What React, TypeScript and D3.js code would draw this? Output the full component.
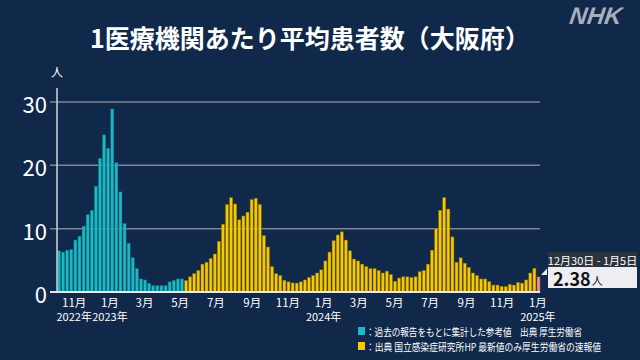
import React from "react";
import * as d3 from "d3";

const W = 640;
const H = 360;

const title = "1医療機関あたり平均患者数（大阪府）";
const firstWeek = "2022-10-03";

// 過去の報告をもとに集計した参考値 (Oct 3 2022 – May 1 2023 weeks)
const referenceValues = [
  6.5, 6.3, 6.6, 6.7, 8.2, 8.8, 10.4, 12.2, 12.9, 16.7, 21.1, 24.8, 22.7, 28.9,
  20.4, 15.8, 10.8, 7.7, 5.4, 3.7, 2.06, 1.9, 1.38, 1.0, 1.0, 1.0, 1.0, 1.6, 1.8,
  2.06, 2.06,
];

// 国立感染症研究所 (May 8 2023 – Dec 23 2024 weeks)
const surveillanceValues = [
  1.8, 2.4, 2.9, 3.4, 4.4, 4.7, 5.3, 6.0, 8.0, 10.7, 13.8, 14.9, 13.9, 11.4, 12.0,
  12.6, 14.6, 14.8, 13.8, 8.9, 7.1, 4.0, 2.9, 2.6, 1.85, 1.6, 1.43, 1.4, 1.6, 1.9,
  2.3, 2.6, 3.0, 3.5, 4.9, 6.3, 8.1, 9.0, 9.5, 8.2, 6.5, 5.2, 4.9, 4.4, 4.0, 3.7,
  3.7, 3.4, 3.0, 3.3, 2.75, 1.7, 2.2, 2.4, 2.4, 2.3, 2.4, 3.2, 3.4, 4.4, 6.6, 10.0,
  12.9, 14.9, 13.1, 8.7, 4.7, 5.4, 4.55, 3.9, 3.0, 2.6, 2.06, 2.06, 1.64, 1.1, 1.1,
  0.9, 0.85, 1.2, 1.1, 1.5, 1.4, 1.9, 3.0, 3.75,
];

// 速報値 (Dec 30 2024 – Jan 5 2025)
const latestValue = 2.38;
const latestLabel = "12月30日 - 1月5日";
const latestUnit = "人";

const yTicks = [0, 10, 20, 30];
const monthTickDates = [
  "2022-11-01", "2023-01-01", "2023-03-01", "2023-05-01", "2023-07-01", "2023-09-01",
  "2023-11-01", "2024-01-01", "2024-03-01", "2024-05-01", "2024-07-01", "2024-09-01",
  "2024-11-01", "2025-01-01",
];
const monthTickLabels = [
  "11月", "1月", "3月", "5月", "7月", "9月", "11月", "1月", "3月", "5月", "7月", "9月",
  "11月", "1月",
];
const yearLabelDates = ["2022-11-01", "2023-01-01", "2024-01-01", "2025-01-01"];
const yearLabels = ["2022年", "2023年", "2024年", "2025年"];

const legendTexts = [
  "：過去の報告をもとに集計した参考値　出典 厚生労働省",
  "：出典 国立感染症研究所HP 最新値のみ厚生労働省の速報値",
];

const FONT = "'Noto Sans CJK JP', 'Noto Sans', sans-serif";
const BG = "#10284a";
const TEAL = "#1cb8c6";
const TEAL_EDGE = "#0d7c88";
const YELLOW = "#f7c900";
const YELLOW_EDGE = "#8a7000";
const PINK = "#f0909a";
const PINK_EDGE = "#a8525c";

function parse(s: string) {
  const [y, m, d] = s.split("-").map(Number);
  return new Date(y, m - 1, d);
}

export default function App() {
  const start = parse(firstWeek);
  const all = [
    ...referenceValues.map((v) => ({ v, kind: "ref" })),
    ...surveillanceValues.map((v) => ({ v, kind: "sur" })),
    { v: latestValue, kind: "latest" },
  ].map((d, i) => ({ ...d, date: d3.timeDay.offset(start, i * 7 + 3) }));

  const n = all.length;
  const x = d3
    .scaleTime()
    .domain([all[0].date, all[n - 1].date])
    .range([59, 538.5]);
  const y = d3.scaleLinear().domain([0, 30]).range([292, 102]);
  const pitch = (538.5 - 59) / (n - 1);
  const bw = pitch - 1.1;

  const fillOf = (k: string) => (k === "ref" ? TEAL : k === "sur" ? YELLOW : PINK);
  const edgeOf = (k: string) =>
    k === "ref" ? TEAL_EDGE : k === "sur" ? YELLOW_EDGE : PINK_EDGE;

  return (
    <svg
      width={W}
      height={H}
      style={{ position: "absolute", left: 0, top: 0, display: "block" }}
      fontFamily={FONT}
    >
      <rect x={0} y={0} width={W} height={H} fill={BG} />
      <text
        x={310}
        y={37}
        fill="#ffffff"
        fontSize={25}
        fontWeight={700}
        textAnchor="middle"
        dominantBaseline="central"
      >
        {title}
      </text>
      <text
        x={594}
        y={16}
        fill="#a7aeb8"
        fontSize={24}
        fontWeight={900}
        fontStyle="italic"
        textAnchor="middle"
        dominantBaseline="central"
        fontFamily="'Liberation Sans', 'DejaVu Sans', sans-serif"
        transform="skewX(-8) translate(2,0)"
        style={{ transformOrigin: "594px 16px" }}
      >
        NHK
      </text>

      <text x={57} y={71} fill="#ffffff" fontSize={12} textAnchor="middle" dominantBaseline="central">
        人
      </text>

      {yTicks.map((t) => (
        <g key={t}>
          {t > 0 && (
            <line x1={50} x2={540} y1={y(t)} y2={y(t)} stroke="#7b8594" strokeWidth={1.5} />
          )}
          <text
            x={47}
            y={y(t) + 1}
            fill="#ffffff"
            fontSize={22}
            textAnchor="end"
            dominantBaseline="central"
          >
            {t}
          </text>
        </g>
      ))}

      {all.map((d, i) => (
        <rect
          key={i}
          x={x(d.date) - bw / 2}
          y={y(d.v)}
          width={bw}
          height={y(0) - y(d.v)}
          fill={fillOf(d.kind)}
          stroke={edgeOf(d.kind)}
          strokeWidth={0.5}
        />
      ))}

      <line x1={57} x2={57} y1={88} y2={292} stroke="#d0d4da" strokeWidth={1.5} />
      <line x1={50} x2={540} y1={292} y2={292} stroke="#e6e8ec" strokeWidth={2} />

      {monthTickDates.map((s, i) => (
        <text
          key={s}
          x={x(parse(s))}
          y={301.5}
          fill="#ffffff"
          fontSize={11.5}
          textAnchor="middle"
          dominantBaseline="central"
        >
          {monthTickLabels[i]}
        </text>
      ))}
      {yearLabelDates.map((s, i) => (
        <text
          key={s}
          x={x(parse(s))}
          y={316}
          fill="#ffffff"
          fontSize={11}
          textAnchor="middle"
          dominantBaseline="central"
        >
          {yearLabels[i]}
        </text>
      ))}

      {legendTexts.map((t, i) => (
        <g key={i}>
          <rect
            x={358}
            y={327 + i * 15}
            width={7}
            height={8}
            fill={i === 0 ? TEAL : YELLOW}
          />
          <text
            x={366}
            y={331.5 + i * 15}
            fill="#ffffff"
            fontSize={10}
            dominantBaseline="central"
            textLength={i === 0 ? 216 : 235}
            lengthAdjust="spacingAndGlyphs"
          >
            {t}
          </text>
        </g>
      ))}

      <rect x={548} y={252} width={89} height={15} fill="#2b333d" />
      <text
        x={592.5}
        y={259.5}
        fill="#ffffff"
        fontSize={11}
        textAnchor="middle"
        dominantBaseline="central"
      >
        {latestLabel}
      </text>
      <rect x={548} y={267} width={89} height={21} fill="#eceef1" />
      <polygon points="541,275 547,268.5 547,275" fill="#eceef1" />
      <text x={553} y={278} fill="#111111" fontSize={18} fontWeight={700} dominantBaseline="central">
        {latestValue.toFixed(2)}
        <tspan fontSize={11} fontWeight={400} dx={1} dy={2}>
          {latestUnit}
        </tspan>
      </text>
    </svg>
  );
}
